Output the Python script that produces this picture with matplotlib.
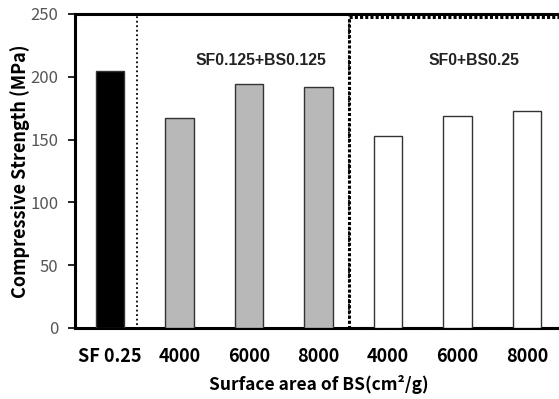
import numpy as np
import matplotlib
matplotlib.use("Agg")
import matplotlib.pyplot as plt
from matplotlib.patches import Rectangle

# compressive strength by BS surface area
labels = ["SF 0.25", "4000", "6000", "8000", "4000", "6000", "8000"]
strength = [205, 167, 194, 192, 153, 169, 173]
fills = ["#000000", "#b8b8b8", "#b8b8b8", "#b8b8b8", "#ffffff", "#ffffff", "#ffffff"]

group_names = ["SF0.125+BS0.125", "SF0+BS0.25"]
group_text_x = [2.17, 5.24]
group_text_y = 213

KR = ["Noto Sans CJK KR", "DejaVu Sans"]

fig = plt.figure(figsize=(5.59, 3.99), dpi=100)
ax = fig.add_axes([75 / 559, 1 - 328 / 399, 487 / 559, 314 / 399])

x = np.arange(len(labels))
ax.bar(x, strength, width=0.41, color=fills, edgecolor="#333333",
       linewidth=1.0, zorder=3)

ax.set_xlim(-0.5, 6.5)
ax.set_ylim(0, 250)
ax.set_yticks([0, 50, 100, 150, 200, 250])

# dotted group boxes
ax.add_patch(Rectangle((0.39, 0), 3.05, 250, fill=False, edgecolor="black",
                       linestyle=(0, (1, 1.5)), linewidth=1.3, zorder=2))
ax.add_patch(Rectangle((3.44, 0), 3.5, 248, fill=False, edgecolor="black",
                       linestyle=(0, (1, 0.7)), linewidth=2.2, zorder=2,
                       clip_on=False))

for name, gx in zip(group_names, group_text_x):
    ax.text(gx, group_text_y, name, ha="center", va="center",
            fontsize=11.3, fontweight="bold", family="Liberation Sans",
            color="#222222")

ax.set_xticks(x)
ax.set_xticklabels(labels, fontsize=13, fontweight="bold", family=KR)
ax.tick_params(axis="x", length=0, pad=14)
ax.tick_params(axis="y", direction="out", length=5, width=1.2,
               labelsize=12, labelcolor="#555555", pad=7)
for t in ax.get_yticklabels():
    t.set_family(KR)

for side in ["left", "bottom", "top"]:
    ax.spines[side].set_linewidth(2.2)
ax.spines["right"].set_visible(False)

ax.set_ylabel("Compressive Strength (MPa)", fontsize=13,
              fontweight="bold", family=KR, labelpad=0)
ax.set_xlabel("Surface area of BS(cm²/g)", fontsize=12.5,
              fontweight="bold", family=KR, labelpad=6)

fig.savefig("out.png", dpi=100)
